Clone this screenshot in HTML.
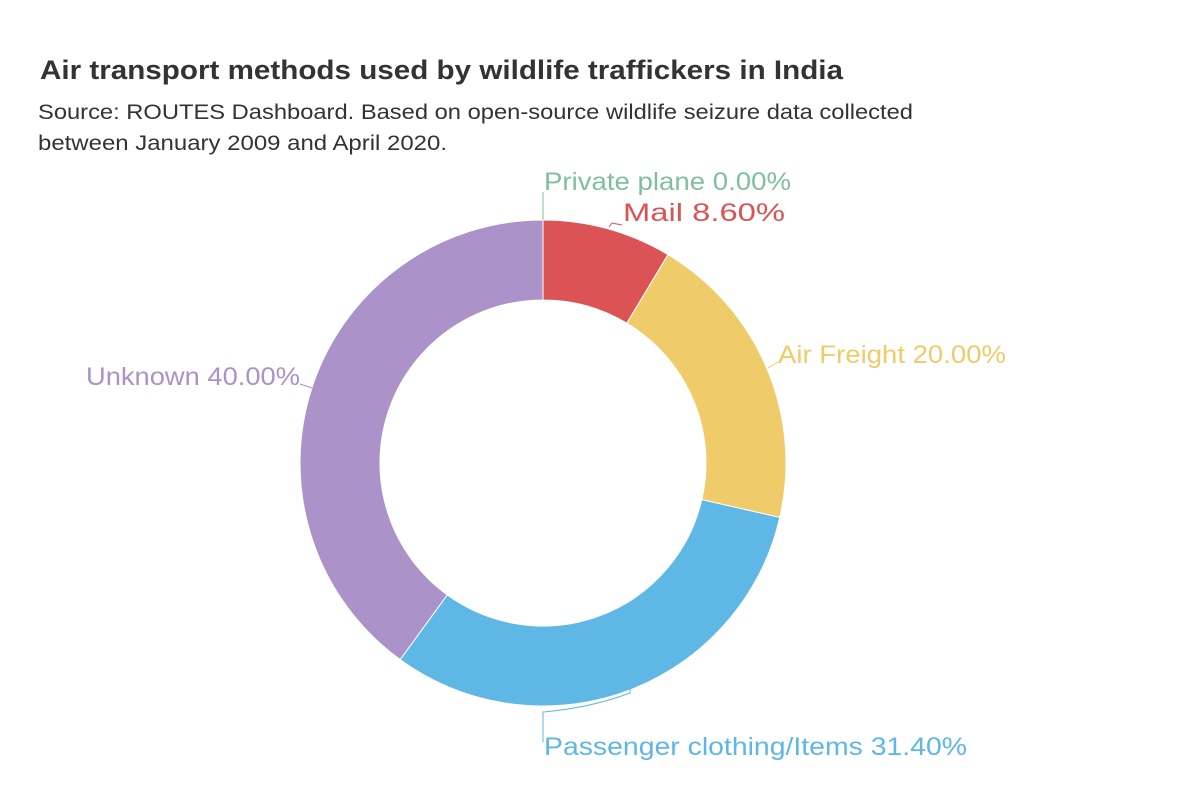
<!DOCTYPE html>
<html><head><meta charset="utf-8"><style>
body{margin:0;background:#fff;width:1200px;height:800px;overflow:hidden;font-family:"Liberation Sans",sans-serif}
</style></head><body>
<svg width="1200" height="800" xmlns="http://www.w3.org/2000/svg" style="position:absolute;left:0;top:0">
<text x="40" y="79" font-size="27" font-weight="bold" fill="#333" textLength="803" lengthAdjust="spacingAndGlyphs">Air transport methods used by wildlife traffickers in India</text>
<text x="38" y="119" font-size="21" fill="#333" textLength="875" lengthAdjust="spacingAndGlyphs">Source: ROUTES Dashboard. Based on open-source wildlife seizure data collected</text>
<text x="38" y="150" font-size="21" fill="#333" textLength="409" lengthAdjust="spacingAndGlyphs">between January 2009 and April 2020.</text>
<g stroke="#fff" stroke-width="1">
<path d="M543,220 A243,243 0 0 1 668,254.6 L626.8,323.2 A163,163 0 0 0 543,300 Z" fill="#dc5355"/>
<path d="M668,254.6 A243,243 0 0 1 779.8,517.5 L701.8,499.6 A163,163 0 0 0 626.8,323.2 Z" fill="#efcb6a"/>
<path d="M779.8,517.5 A243,243 0 0 1 400.2,659.6 L447.2,594.9 A163,163 0 0 0 701.8,499.6 Z" fill="#5eb7e4"/>
<path d="M400.2,659.6 A243,243 0 0 1 543,220 L543,300 A163,163 0 0 0 447.2,594.9 Z" fill="#ab92c8"/>
</g>
<g fill="none" stroke-width="1">
<path d="M543,192 V220" stroke="#7fbf9f"/>
<path d="M609,227 L612,223 L622,225" stroke="#dc5355"/>
<path d="M768,368 L778,362" stroke="#efcb6a"/>
<path d="M300,384 L312,388" stroke="#ab92c8"/>
<path d="M630,687 V693 Q590,708 543,712 V742" stroke="#5eb7e4"/>
</g>
<g font-size="25">
<text x="544" y="190" fill="#7fbf9f" textLength="247" lengthAdjust="spacingAndGlyphs">Private plane 0.00%</text>
<text x="623" y="221" fill="#dc5355" textLength="162" lengthAdjust="spacingAndGlyphs">Mail 8.60%</text>
<text x="778" y="363" fill="#efcb6a" textLength="228" lengthAdjust="spacingAndGlyphs">Air Freight 20.00%</text>
<text x="86" y="385" fill="#ab92c8" textLength="214" lengthAdjust="spacingAndGlyphs">Unknown 40.00%</text>
<text x="544" y="755" fill="#5eb7e4" textLength="423" lengthAdjust="spacingAndGlyphs">Passenger clothing/Items 31.40%</text>
</g>
</svg>
</body></html>
